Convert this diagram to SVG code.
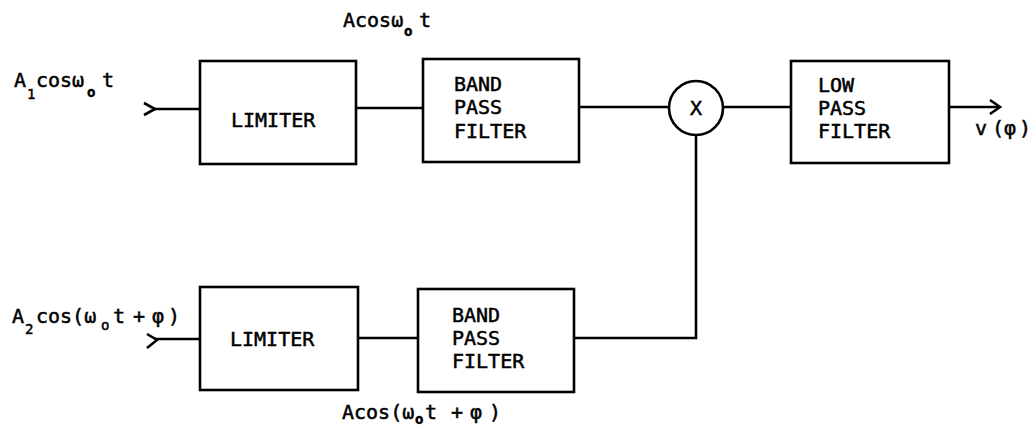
<svg xmlns="http://www.w3.org/2000/svg" width="1034" height="426" viewBox="0 0 1034 426">
<style>
.box{fill:none;stroke:#000;stroke-width:2.6}
.ln{fill:none;stroke:#000;stroke-width:2.6;stroke-linejoin:miter}
.t{font-family:"DejaVu Sans Mono","Liberation Mono",monospace;font-size:20px;fill:#000;stroke:#000;stroke-width:0.5}
.s{font-size:14px}
</style>
<rect width="1034" height="426" fill="#fff"/>
<g id="connectors">
<polyline class="ln" points="144,103 155,109 144,115"/>
<line class="ln" x1="153" y1="109" x2="200" y2="109"/>
<line class="ln" x1="356" y1="108" x2="423" y2="108"/>
<line class="ln" x1="579" y1="107" x2="669" y2="107"/>
<line class="ln" x1="723" y1="107" x2="791" y2="107"/>
<line class="ln" x1="949" y1="107" x2="999" y2="107"/>
<polyline class="ln" points="990,100 1000,107 990,114"/>
<polyline class="ln" points="147,334 157,340 147,348"/>
<line class="ln" x1="155" y1="339" x2="200" y2="339"/>
<line class="ln" x1="358" y1="338" x2="418" y2="338"/>
<polyline class="ln" points="574,338 696,338 696,135"/>
</g>
<g id="lim1"><rect class="box" x="200" y="61" width="156" height="103"/><text class="t" x="231" y="127">LIMITER</text></g>
<g id="bpf1"><rect class="box" x="423" y="59" width="156" height="103"/><text class="t" x="454" y="91">BAND</text><text class="t" x="454" y="114">PASS</text><text class="t" x="454" y="138">FILTER</text></g>
<g id="mult"><circle class="box" cx="696" cy="108" r="27"/><text class="t" x="690" y="115">X</text></g>
<g id="lpf"><rect class="box" x="791" y="61" width="158" height="102"/><text class="t" x="818" y="92">LOW</text><text class="t" x="818" y="115">PASS</text><text class="t" x="818" y="138">FILTER</text></g>
<g id="lim2"><rect class="box" x="200" y="287" width="158" height="103"/><text class="t" x="230" y="346">LIMITER</text></g>
<g id="bpf2"><rect class="box" x="418" y="289" width="156" height="103"/><text class="t" x="452" y="322">BAND</text><text class="t" x="452" y="345">PASS</text><text class="t" x="452" y="368">FILTER</text></g>
<g id="labels">
<text class="t" x="14" y="87">A<tspan class="s" x="27" y="99">1</tspan><tspan x="36" y="87">cosω</tspan><tspan class="s" x="87" y="97" font-weight="bold">o</tspan><tspan x="102" y="87">t</tspan></text>
<text class="t" x="343" y="27">Acosω<tspan class="s" x="404" y="36" font-weight="bold">o</tspan><tspan x="419" y="27">t</tspan></text>
<text class="t" x="12" y="323">A<tspan class="s" x="25" y="334">2</tspan><tspan x="36" y="323">cos(ω</tspan><tspan class="s" x="101" y="330">o</tspan><tspan x="113 123 133 143 152 168" y="323">t + φ)</tspan></text>
<text class="t" x="342" y="419">Acos(ω<tspan class="s" x="415" y="424" font-weight="bold">o</tspan><tspan x="425 440 451 462 470 489" y="419">t + φ)</tspan></text>
<text class="t" x="975 984 992 1004 1019" y="135">v (φ)</text>
</g>
</svg>
